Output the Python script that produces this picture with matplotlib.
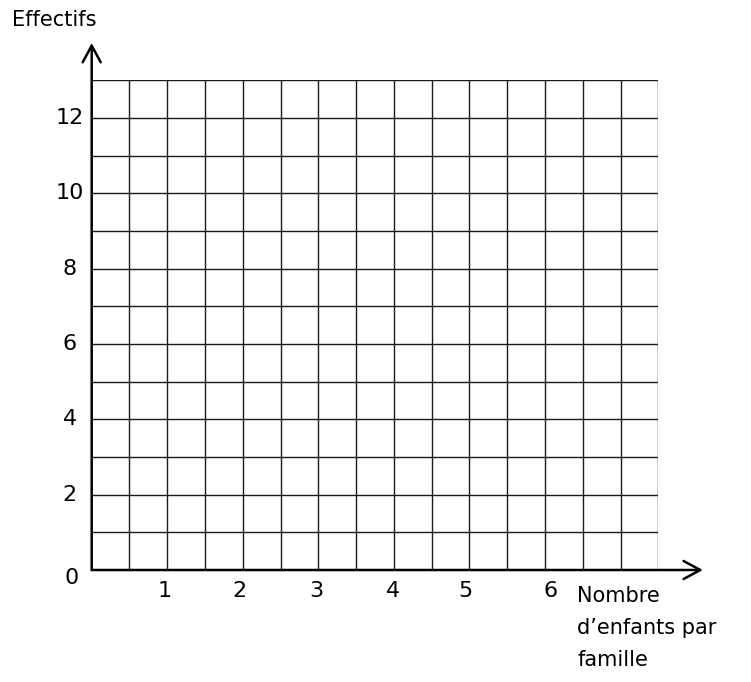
import numpy as np
import matplotlib.pyplot as plt

# axis content (blank grid to be filled in)
x_labels = ['1', '2', '3', '4', '5', '6']
x_label_pos = [0.97, 1.95, 2.97, 3.99, 4.95, 6.07]
y_labels = ['0', '2', '4', '6', '8', '10', '12']
y_label_pos = [0, 2, 4, 6, 8, 10, 12]
x_max = 7.5    # 15 half-unit columns
y_max = 13     # 13 rows
x_title = "Nombre\nd\u2019enfants par\nfamille"
y_title = "Effectifs"

W, H = 751, 682
fig = plt.figure(figsize=(W / 100, H / 100), dpi=100)
fig.patch.set_facecolor('white')

# axes area in pixels
left, right, top, bottom = 91.7, 658.3, 80.3, 570.0
ax = fig.add_axes([left / W, (H - bottom) / H, (right - left) / W, (bottom - top) / H])
ax.set_xlim(0, x_max)
ax.set_ylim(0, y_max)
ax.axis('off')

# grid
ax.vlines(np.arange(0.5, x_max + 0.01, 0.5), 0, y_max, colors='#1a1a1a', lw=1.0)
ax.hlines(np.arange(1, y_max + 0.01, 1), 0, x_max, colors='#1a1a1a', lw=1.0)

# axes with open arrow heads
arrow = dict(arrowstyle='->,head_length=1.2,head_width=0.65', lw=1.8, color='black',
             shrinkA=0, shrinkB=0)
ax.annotate('', xy=(8.09, 0), xytext=(0, 0), arrowprops=arrow, annotation_clip=False)
ax.annotate('', xy=(0, 13.99), xytext=(0, 0), arrowprops=arrow, annotation_clip=False)

# tick labels
for p, t in zip(x_label_pos, x_labels):
    ax.text(p, -0.55, t, ha='center', va='center', fontsize=16, clip_on=False)
for p, t in zip(y_label_pos[1:], y_labels[1:]):
    ax.text(-0.29, p, t, ha='center', va='center', fontsize=16, clip_on=False)
ax.text(-0.26, -0.22, y_labels[0], ha='center', va='center', fontsize=16, clip_on=False)

# axis titles
fig.text(12 / W, 1 - 20 / H, y_title, ha='left', va='center', fontsize=15)
fig.text(577 / W, 1 - 586 / H, x_title, ha='left', va='top', fontsize=15,
         linespacing=1.75)

fig.savefig('out.png', dpi=100)
